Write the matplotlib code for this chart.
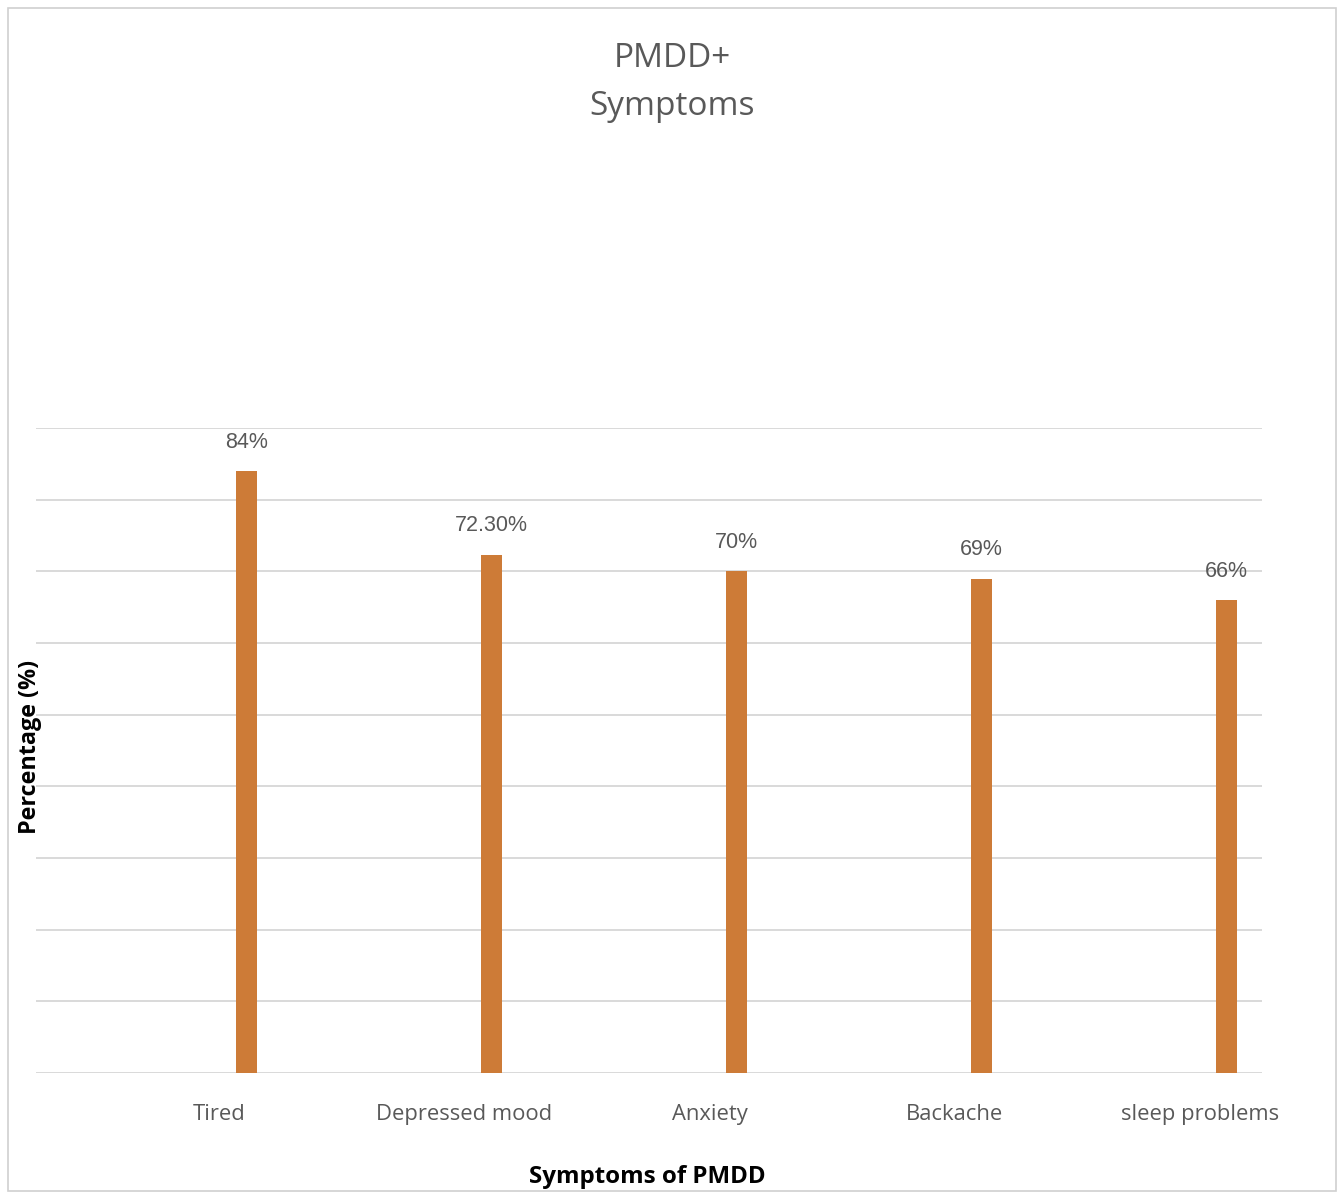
import matplotlib
matplotlib.use('Agg')
import matplotlib.pyplot as plt
from matplotlib.patches import Rectangle

symptoms = ['Tired', 'Depressed mood', 'Anxiety', 'Backache', 'sleep problems']
percent = [84, 72.3, 70, 69, 66]
value_labels = ['84%', '72.30%', '70%', '69%', '66%']
grid_steps = list(range(0, 91, 10))

BAR_COLOR = '#CD7B37'
TEXT_GRAY = '#595959'
GRID_GRAY = '#D9D9D9'

plt.rcParams['font.family'] = ['Open Sans', 'DejaVu Sans']

fig = plt.figure(figsize=(13.44, 11.95), dpi=100)
fig.patch.set_facecolor('white')

# light frame round the whole chart
fig.add_artist(Rectangle((0.006, 0.003), 0.988, 0.99, transform=fig.transFigure,
                         fill=False, edgecolor='#D0D0D0', linewidth=1.2))

ax = fig.add_axes([0.0268, 0.102, 0.912, 0.5397])

xs = [i + 0.857 for i in range(len(symptoms))]
ax.bar(xs, percent, width=0.085, color=BAR_COLOR, zorder=3)
for x, v, lab in zip(xs, percent, value_labels):
    ax.text(x, v + 2.6, lab, ha='center', va='bottom', fontsize=15.5,
            color=TEXT_GRAY, family=['Liberation Sans', 'DejaVu Sans'])

for g in grid_steps:
    ax.axhline(g, color=GRID_GRAY, linewidth=1.4, zorder=1)

ax.set_xlim(0, 5)
ax.set_ylim(0, 90)
ax.set_yticks([])
ax.set_xticks([i + 0.747 for i in range(len(symptoms))])
ax.set_xticklabels(symptoms, fontsize=15.8, color=TEXT_GRAY)
ax.tick_params(axis='x', length=0, pad=22)
for s in ax.spines.values():
    s.set_visible(False)

ax.set_ylabel('Percentage (%)', fontsize=16.8, fontweight='bold', color='black')
ax.yaxis.set_label_coords(0.005, 0.505)
fig.text(0.482, 0.015, 'Symptoms of PMDD', ha='center', va='center',
         fontsize=17.4, fontweight='bold', color='black')

fig.text(0.5, 0.951, 'PMDD+', ha='center', va='center', fontsize=24, color=TEXT_GRAY)
fig.text(0.5, 0.911, 'Symptoms', ha='center', va='center', fontsize=24, color=TEXT_GRAY)

fig.savefig('out.png', dpi=100)
